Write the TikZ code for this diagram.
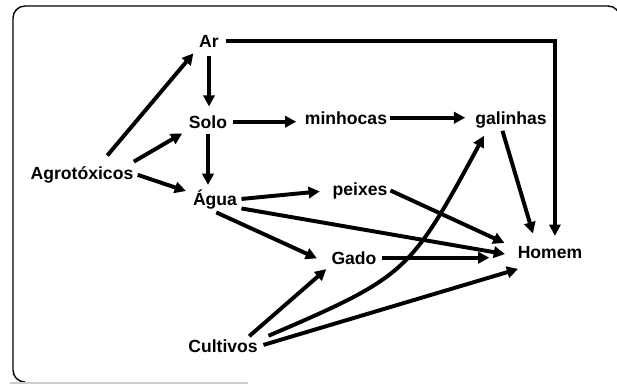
\documentclass[tikz,border=0pt]{standalone}
\usepackage{fontspec}
\setmainfont{Liberation Sans}
\usetikzlibrary{arrows.meta}

\begin{document}
\begin{tikzpicture}[x=0.025cm, y=-0.025cm,
		lbl/.style={anchor=base, inner sep=2pt, font=\fontsize{12.5}{14}\selectfont\bfseries},
		seta/.style={line width=2.8pt, -{Triangle[length=8pt, width=8pt]}}]
		\useasboundingbox (0,0) rectangle (617,384);
		\clip (0,0) rectangle (617,384);

		% moldura
		\draw[line width=1pt, rounded corners=8.5pt] (25,382) -| (13,6) -| (620,400);
		\draw[black!20, line width=1pt] (10,383) -- (248,383);

		\draw (82,179) node[lbl] (agro) {Agrotóxicos};
		\draw (209,47) node[lbl] (ar) {Ar};
		\draw (208,128) node[lbl] (solo) {Solo};
		\draw (215,205) node[lbl] (agua) {Água};
		\draw (346,124) node[lbl] (minh) {minhocas};
		\draw (511,124) node[lbl] (gal) {galinhas};
		\draw (360,195) node[lbl] (peix) {peixes};
		\draw (354,264) node[lbl] (gado) {Gado};
		\draw (550,258) node[lbl] (homem) {Homem};
		\draw (223,352) node[lbl] (cult) {Cultivos};

		\draw[seta, shorten <=7pt, shorten >=3pt] (agro.31) -- (ar.south west);
		\draw[seta, shorten <=2pt, shorten >=3pt] (agro.13) -- (solo.south west);
		\draw[seta, shorten <=1pt, shorten >=3pt] (agro.east) -- (agua.165);
		\draw[seta, shorten <=4pt, shorten >=4pt] (ar.south) -- (ar.south |- solo.north);
		\draw[seta, shorten <=2pt, shorten >=1pt] (solo.south) -- (solo.south |- agua.north);
		\draw[seta, shorten <=2pt, shorten >=4pt] (solo.east) -- (solo.east -| minh.west);
		\draw[seta, shorten >=5pt] (minh.east) -- (minh.east -| gal.west);
		\draw[seta, shorten <=3pt, shorten >=5pt] (ar.east) -| ([xshift=3.5pt]homem.north);
		\draw[seta, shorten >=7pt] (gal.233) -- (homem.147);
		\draw[seta, shorten <=1pt, shorten >=7pt] (agua.east) -- (peix.west);
		\draw[seta, shorten >=8pt] (peix.east) -- (homem.173);
		\draw[seta, shorten <=1pt, shorten >=7pt] (agua.340) -- (homem.186);
		\draw[seta, shorten <=1pt, shorten >=9pt] (agua.south) -- (gado.193);
		\draw[seta, shorten <=2pt, shorten >=18pt] (gado.east) -- (gado.east -| homem.west);
		\draw[seta, shorten >=2pt] (cult.20) -- (gado.south west);
		\draw[seta, shorten <=6pt, shorten >=4pt] (cult.10) .. controls (408,276) and (410,272) .. (gal.205);
		\draw[seta, shorten <=2pt, shorten >=19pt] (cult.east) -- (homem.236);
	\end{tikzpicture}
\end{document}
